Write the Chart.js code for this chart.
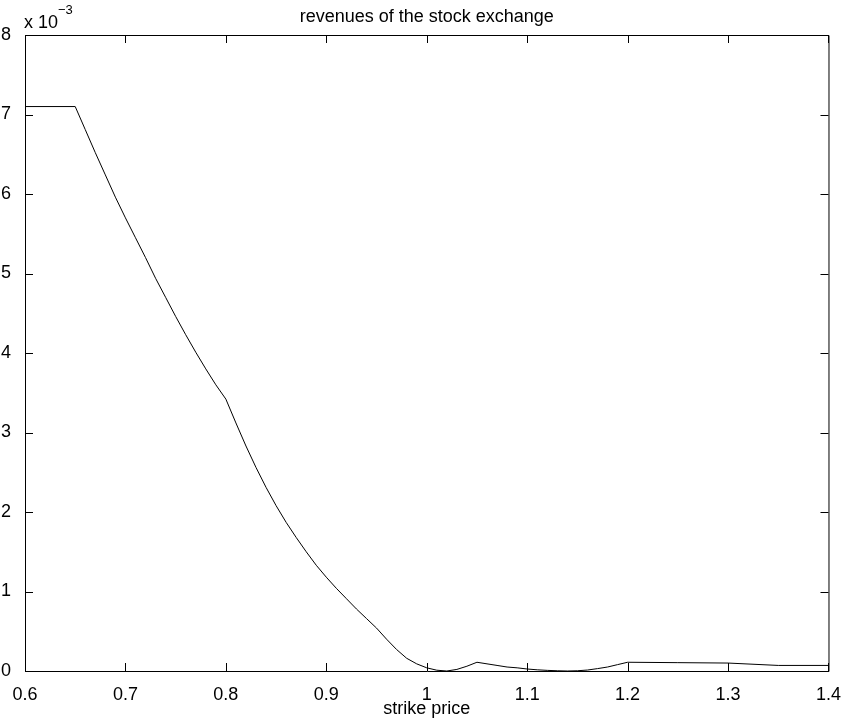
<!DOCTYPE html>
<html>
<head>
<meta charset="utf-8">
<script src="https://cdn.jsdelivr.net/npm/chart.js@4/dist/chart.umd.min.js"></script>
<style>
  html, body { margin: 0; padding: 0; background: #fff; }
  #wrap { width: 846px; height: 726px; }
</style>
</head>
<body>
<div id="wrap"><canvas id="revChart" width="846" height="726"></canvas></div>
<script>
// strike price (x) and revenue in units of 1e-3 (y)
const strikePrices = [
    0.60, 0.65, 0.66, 0.67, 0.68, 0.69, 0.70, 0.71, 0.72, 0.73, 0.74, 0.75,
    0.76, 0.77, 0.78, 0.79, 0.80, 0.81, 0.82, 0.83, 0.84, 0.85, 0.86, 0.87,
    0.88, 0.89, 0.90, 0.91, 0.92, 0.93, 0.94, 0.95, 0.96, 0.97, 0.98, 0.99,
    1.00, 1.01, 1.02, 1.03, 1.04, 1.05, 1.06, 1.07, 1.08, 1.09, 1.10, 1.11,
    1.12, 1.13, 1.14, 1.15, 1.16, 1.17, 1.18, 1.19, 1.20, 1.25, 1.30, 1.35, 1.40
];
const revenues = [
    7.10, 7.10, 6.81, 6.52, 6.24, 5.96, 5.70, 5.45, 5.20, 4.94, 4.70, 4.46,
    4.23, 4.01, 3.80, 3.60, 3.42, 3.12, 2.83, 2.56, 2.31, 2.08, 1.87, 1.68,
    1.50, 1.33, 1.18, 1.04, 0.91, 0.78, 0.66, 0.54, 0.40, 0.27, 0.16, 0.09,
    0.04, 0.01, 0.00, 0.02, 0.06, 0.11, 0.09, 0.07, 0.05, 0.04, 0.025, 0.015,
    0.008, 0.003, 0.00, 0.003, 0.012, 0.03, 0.05, 0.08, 0.11, 0.105, 0.10, 0.07, 0.07
];
const xTicks = [0.6, 0.7, 0.8, 0.9, 1.0, 1.1, 1.2, 1.3, 1.4];
const yTicks = [0, 1, 2, 3, 4, 5, 6, 7, 8];

const FONT = "'Liberation Sans', Arial, Helvetica, sans-serif";

// MATLAB-ish frame: box, inward ticks on all four sides, title, exponent label
const framePlugin = {
    id: 'frame',
    afterDraw(chart) {
        const ctx = chart.ctx;
        const a = chart.chartArea;
        const xs = chart.scales.x;
        const ys = chart.scales.y;
        const tick = 8;
        ctx.save();
        ctx.strokeStyle = '#000';
        ctx.lineWidth = 1;
        ctx.beginPath();
        ctx.rect(a.left + 0.5, a.top + 0.5, a.right - a.left, a.bottom - a.top);
        xTicks.forEach(v => {
            const px = Math.round(xs.getPixelForValue(v)) + 0.5;
            ctx.moveTo(px, a.bottom);
            ctx.lineTo(px, a.bottom - tick);
            ctx.moveTo(px, a.top);
            ctx.lineTo(px, a.top + tick);
        });
        yTicks.forEach(v => {
            const py = Math.round(ys.getPixelForValue(v)) + 0.5;
            ctx.moveTo(a.left, py);
            ctx.lineTo(a.left + tick, py);
            ctx.moveTo(a.right, py);
            ctx.lineTo(a.right - tick, py);
        });
        ctx.stroke();

        ctx.fillStyle = '#000';
        ctx.textAlign = 'center';
        ctx.textBaseline = 'middle';
        ctx.font = '18px ' + FONT;
        ctx.fillText('revenues of the stock exchange', (a.left + a.right) / 2, 17);

        ctx.textAlign = 'left';
        ctx.textBaseline = 'alphabetic';
        ctx.fillText('x 10', a.left - 1, 28);
        const w = ctx.measureText('x 10').width;
        ctx.font = '13px ' + FONT;
        ctx.fillText('\u22123', a.left - 1 + w, 14);
        ctx.restore();
    }
};

const ctx = document.getElementById('revChart').getContext('2d');
const revChart = new Chart(ctx, {
    type: 'line',
    data: {
        datasets: [{
            data: strikePrices.map((x, i) => ({ x: x, y: revenues[i] })),
            borderColor: '#000',
            borderWidth: 1,
            pointRadius: 0,
            tension: 0,
            fill: false
        }]
    },
    options: {
        responsive: false,
        animation: false,
        layout: { padding: { top: 35, right: 16, left: 0, bottom: 0 } },
        plugins: {
            legend: { display: false },
            tooltip: { enabled: false }
        },
        scales: {
            x: {
                type: 'linear',
                min: 0.6,
                max: 1.4,
                afterFit: s => { s.height = 55; },
                afterBuildTicks: s => { s.ticks = xTicks.map(v => ({ value: v })); },
                grid: { display: false },
                border: { display: false },
                ticks: {
                    color: '#000',
                    font: { family: FONT, size: 18 },
                    padding: 5,
                    maxRotation: 0,
                    callback: v => String(Math.round(v * 10) / 10)
                },
                title: {
                    display: true,
                    text: 'strike price',
                    color: '#000',
                    font: { family: FONT, size: 18 },
                    padding: { top: 0, bottom: 6 }
                }
            },
            y: {
                type: 'linear',
                min: 0,
                max: 8,
                afterFit: s => { s.width = 25; },
                afterBuildTicks: s => { s.ticks = yTicks.map(v => ({ value: v })); },
                grid: { display: false },
                border: { display: false },
                ticks: {
                    color: '#000',
                    font: { family: FONT, size: 18 },
                    padding: 6,
                    callback: v => String(v)
                }
            }
        }
    },
    plugins: [framePlugin]
});
</script>
</body>
</html>
